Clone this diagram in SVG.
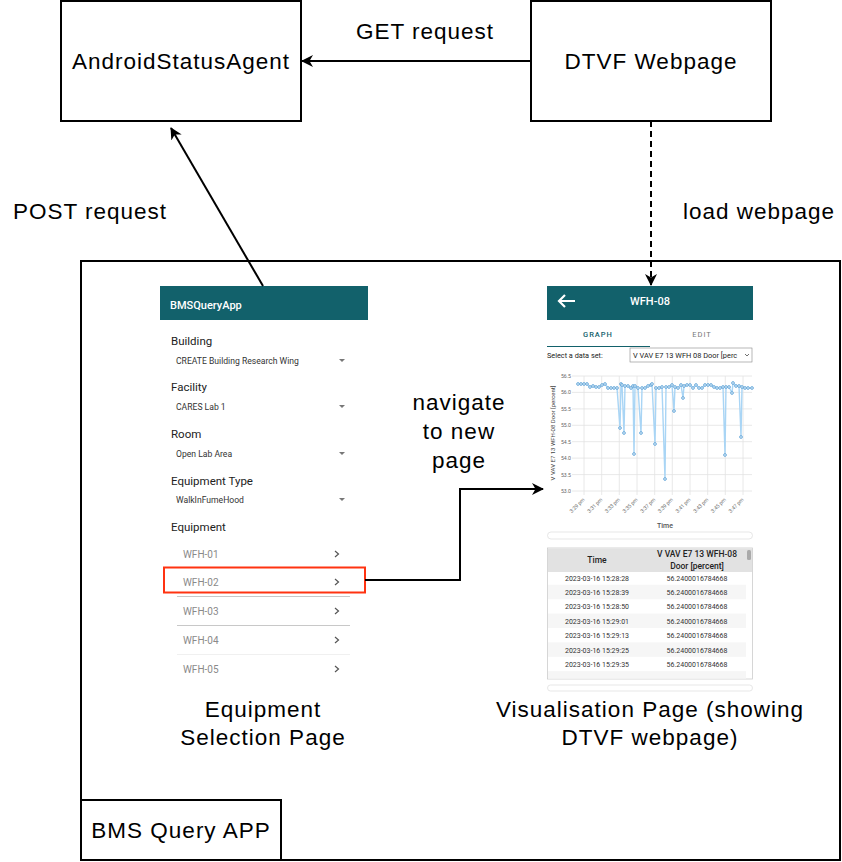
<svg xmlns="http://www.w3.org/2000/svg" width="842" height="862" viewBox="0 0 842 862">
<style>
.box{fill:#fff;stroke:#000;stroke-width:2}
.lbl{font-family:"Liberation Sans",Arial,sans-serif;font-size:22.5px;fill:#000;letter-spacing:1px}
.edge{fill:none;stroke:#000;stroke-width:2}
.app{font-family:Roboto,"Noto Sans",sans-serif}
.fl{font-size:11.5px;fill:#222}
.fv{font-size:8.6px;fill:#333}
.eq{font-size:10px;fill:#8a8a8a}
.chev{fill:none;stroke:#555;stroke-width:1.2}
.tri{fill:#777}
.tick{font-size:5.2px;fill:#666}
.grid{stroke:#e2e2e2;stroke-width:0.8}
.cell{font-size:7px;fill:#333}
</style>
<defs>
<marker id="arr" markerWidth="12" markerHeight="12" viewBox="0 0 12 12" refX="11" refY="6" orient="auto" markerUnits="userSpaceOnUse">
<path d="M0,0 L12,6 L0,12 L3.5,6 Z" fill="#000"/>
</marker>
<marker id="dot" markerWidth="4" markerHeight="4" viewBox="0 0 4 4" refX="2" refY="2" markerUnits="userSpaceOnUse">
<circle cx="2" cy="2" r="1.4" fill="#d5eaf8" stroke="#5b9fd6" stroke-width="0.8"/>
</marker>
</defs>
<rect width="842" height="862" fill="#fff"/>

<g id="node-bms-app">
<rect class="box" x="81" y="261" width="759" height="599"/>
<rect class="box" x="81" y="800" width="200" height="60"/>
<text class="lbl" x="181" y="838" text-anchor="middle">BMS Query APP</text>
</g>

<g id="node-android-status-agent">
<rect class="box" x="61" y="1" width="240" height="120"/>
<text class="lbl" x="181" y="69" text-anchor="middle">AndroidStatusAgent</text>
</g>

<g id="node-dtvf-webpage">
<rect class="box" x="531" y="1" width="240" height="120"/>
<text class="lbl" x="651" y="69" text-anchor="middle">DTVF Webpage</text>
</g>

<g id="node-equipment-selection-page" class="app">
<rect x="160" y="286" width="208" height="34" fill="#12616b"/>
<text x="170" y="309" font-size="11" fill="#fff" font-weight="500">BMSQueryApp</text>
<text class="fl" x="171" y="345">Building</text>
<text class="fv" x="176" y="364">CREATE Building Research Wing</text>
<path class="tri" d="M339,359 L345,359 L342,362 Z"/>
<text class="fl" x="171" y="391">Facility</text>
<text class="fv" x="176" y="410">CARES Lab 1</text>
<path class="tri" d="M339,405 L345,405 L342,408 Z"/>
<text class="fl" x="171" y="438">Room</text>
<text class="fv" x="176" y="457">Open Lab Area</text>
<path class="tri" d="M339,452 L345,452 L342,455 Z"/>
<text class="fl" x="171" y="485">Equipment Type</text>
<text class="fv" x="176" y="503">WalkInFumeHood</text>
<path class="tri" d="M339,498 L345,498 L342,501 Z"/>
<text class="fl" x="171" y="531">Equipment</text>
<text class="eq" x="183" y="558">WFH-01</text>
<path class="chev" d="M335,551 L338.5,554 L335,557"/>
<text class="eq" x="183" y="586">WFH-02</text>
<path class="chev" d="M335,579 L338.5,582 L335,585"/>
<line x1="177" y1="596.5" x2="350" y2="596.5" stroke="#c8c8c8" stroke-width="1"/>
<text class="eq" x="183" y="615">WFH-03</text>
<path class="chev" d="M335,608 L338.5,611 L335,614"/>
<line x1="177" y1="625.5" x2="350" y2="625.5" stroke="#c8c8c8" stroke-width="1"/>
<text class="eq" x="183" y="644">WFH-04</text>
<path class="chev" d="M335,637 L338.5,640 L335,643"/>
<line x1="177" y1="654.5" x2="350" y2="654.5" stroke="#f0f0f0" stroke-width="1"/>
<text class="eq" x="183" y="673">WFH-05</text>
<path class="chev" d="M335,666 L338.5,669 L335,672"/>
<rect x="164" y="567.5" width="201" height="25" fill="none" stroke="#ff3311" stroke-width="2"/>
<text class="lbl" x="263" y="717" text-anchor="middle">Equipment</text>
<text class="lbl" x="263" y="745" text-anchor="middle">Selection Page</text>
</g>

<g id="node-visualisation-page" class="app">
<rect x="547" y="286" width="206" height="34" fill="#12616b"/>
<path d="M559,301 L575,301 M565,295 L559,301 L565,307" fill="none" stroke="#fff" stroke-width="2.2"/>
<text x="650" y="305" font-size="11" fill="#fff" text-anchor="middle" font-weight="500">WFH-08</text>
<text x="598" y="337" font-size="7.5" fill="#12616b" text-anchor="middle" letter-spacing="1" font-weight="500">GRAPH</text>
<text x="702" y="337" font-size="7.5" fill="#777" text-anchor="middle" letter-spacing="1">EDIT</text>
<line x1="547" y1="346.5" x2="650" y2="346.5" stroke="#12616b" stroke-width="1"/>
<text x="547" y="358" font-size="7.3" fill="#222">Select a data set:</text>
<rect x="630" y="348" width="122" height="14" fill="#fff" stroke="#888" stroke-width="0.6"/>
<text x="633" y="358" font-size="7.4" fill="#222">V VAV E7 13 WFH 08 Door [perc</text>
<path d="M745,354 L747,356 L749,354" fill="none" stroke="#333" stroke-width="0.7"/>
<g>
<line class="grid" x1="572" y1="376" x2="752" y2="376"/>
<line class="grid" x1="572" y1="392.4" x2="752" y2="392.4"/>
<line class="grid" x1="572" y1="408.9" x2="752" y2="408.9"/>
<line class="grid" x1="572" y1="425.3" x2="752" y2="425.3"/>
<line class="grid" x1="572" y1="441.7" x2="752" y2="441.7"/>
<line class="grid" x1="572" y1="458.1" x2="752" y2="458.1"/>
<line class="grid" x1="572" y1="474.6" x2="752" y2="474.6"/>
<line class="grid" x1="572" y1="491" x2="752" y2="491"/>
<line class="grid" x1="584" y1="376" x2="584" y2="495"/>
<line class="grid" x1="601.7" y1="376" x2="601.7" y2="495"/>
<line class="grid" x1="619.3" y1="376" x2="619.3" y2="495"/>
<line class="grid" x1="637" y1="376" x2="637" y2="495"/>
<line class="grid" x1="654.7" y1="376" x2="654.7" y2="495"/>
<line class="grid" x1="672.3" y1="376" x2="672.3" y2="495"/>
<line class="grid" x1="690" y1="376" x2="690" y2="495"/>
<line class="grid" x1="707.7" y1="376" x2="707.7" y2="495"/>
<line class="grid" x1="725.3" y1="376" x2="725.3" y2="495"/>
<line class="grid" x1="743" y1="376" x2="743" y2="495"/>
</g>
<g class="tick" text-anchor="end">
<text x="571" y="378">56.5</text>
<text x="571" y="394.4">56.0</text>
<text x="571" y="410.9">55.5</text>
<text x="571" y="427.3">55.0</text>
<text x="571" y="443.7">54.5</text>
<text x="571" y="460.1">54.0</text>
<text x="571" y="476.6">53.5</text>
<text x="571" y="493">53.0</text>
<text transform="translate(585,500) rotate(-45)">3:29 pm</text>
<text transform="translate(602.7,500) rotate(-45)">3:31 pm</text>
<text transform="translate(620.3,500) rotate(-45)">3:33 pm</text>
<text transform="translate(638,500) rotate(-45)">3:35 pm</text>
<text transform="translate(655.7,500) rotate(-45)">3:37 pm</text>
<text transform="translate(673.3,500) rotate(-45)">3:39 pm</text>
<text transform="translate(691,500) rotate(-45)">3:41 pm</text>
<text transform="translate(708.7,500) rotate(-45)">3:43 pm</text>
<text transform="translate(726.3,500) rotate(-45)">3:45 pm</text>
<text transform="translate(744,500) rotate(-45)">3:47 pm</text>
</g>
<text transform="translate(555,433) rotate(-90)" font-size="6" fill="#444" text-anchor="middle">V VAV E7 13 WFH-08 Door [percent]</text>
<text x="665" y="528" font-size="7" fill="#555" text-anchor="middle" font-weight="500">Time</text>
<polyline fill="none" stroke="#a9d5f5" stroke-width="1.4" stroke-linejoin="round" marker-start="url(#dot)" marker-mid="url(#dot)" marker-end="url(#dot)" points="578,384 581,384 584,384 587,384 590,387 593,386 596,387 599,387 602,385 605,384 608,388 611,388 614,388 617,388 620,428 621,384 622,385 624,433 625,386 628,386 631,388 633,386 634,454 635,386 638,388 641,433 642,388 645,388 648,386 651,385 652,384 655,444 656,388 659,388 662,387 665,479 666,387 669,387 672,385 674,411 675,387 678,388 681,385 683,398 684,386 687,385 690,385 693,388 696,385 699,388 702,388 705,385 708,385 711,385 714,387 717,388 720,388 723,387 725,455 726,387 729,387 732,393 733,383 736,386 739,386 741,437 742,387 745,388 748,388 752,388"/>
<rect x="547.5" y="532" width="205" height="7" rx="3.5" fill="#fff" stroke="#ddd" stroke-width="0.7"/>
<rect x="547.5" y="548" width="205" height="131" fill="#fff" stroke="#ccc" stroke-width="0.8"/>
<rect x="548" y="548.5" width="204" height="23.5" fill="#e2e2e2"/>
<rect x="548" y="584.8" width="198" height="14.4" fill="#f6f6f6"/>
<rect x="548" y="613.6" width="198" height="14.4" fill="#f6f6f6"/>
<rect x="548" y="642.4" width="198" height="14.4" fill="#f6f6f6"/>
<rect x="548" y="671.2" width="198" height="7.5" fill="#f6f6f6"/>
<rect x="747" y="550" width="4" height="10" rx="1.5" fill="#aaa"/>
<text x="597" y="563" font-size="8.5" fill="#222" text-anchor="middle" font-weight="500">Time</text>
<text x="697" y="557" font-size="8.5" fill="#222" text-anchor="middle" font-weight="500">V VAV E7 13 WFH-08</text>
<text x="697" y="569" font-size="8.5" fill="#222" text-anchor="middle" font-weight="500">Door [percent]</text>
<g class="cell" text-anchor="middle">
<text x="597" y="580.5">2023-03-16 15:28:28</text>
<text x="697" y="580.5">56.2400016784668</text>
<text x="597" y="594.9">2023-03-16 15:28:39</text>
<text x="697" y="594.9">56.2400016784668</text>
<text x="597" y="609.3">2023-03-16 15:28:50</text>
<text x="697" y="609.3">56.2400016784668</text>
<text x="597" y="623.7">2023-03-16 15:29:01</text>
<text x="697" y="623.7">56.2400016784668</text>
<text x="597" y="638.1">2023-03-16 15:29:13</text>
<text x="697" y="638.1">56.2400016784668</text>
<text x="597" y="652.5">2023-03-16 15:29:25</text>
<text x="697" y="652.5">56.2400016784668</text>
<text x="597" y="666.9">2023-03-16 15:29:35</text>
<text x="697" y="666.9">56.2400016784668</text>
</g>
<rect x="547.5" y="685" width="205" height="6" rx="3" fill="#fff" stroke="#ddd" stroke-width="0.7"/>
<text class="lbl" x="650" y="717" text-anchor="middle">Visualisation Page (showing</text>
<text class="lbl" x="650" y="745" text-anchor="middle">DTVF webpage)</text>
</g>

<g id="connectors">
<line class="edge" x1="531" y1="61" x2="302" y2="61" marker-end="url(#arr)"/>
<line class="edge" x1="263" y1="286" x2="171" y2="128" marker-end="url(#arr)"/>
<line class="edge" x1="651" y1="121" x2="651" y2="285" stroke-dasharray="6,4" marker-end="url(#arr)"/>
<polyline class="edge" points="365,580 460,580 460,489 543,489" marker-end="url(#arr)"/>
</g>

<g id="edge-labels">
<text class="lbl" x="425" y="39" text-anchor="middle">GET request</text>
<text class="lbl" x="90" y="219" text-anchor="middle">POST request</text>
<text class="lbl" x="759" y="219" text-anchor="middle">load webpage</text>
<text class="lbl" x="459" y="410" text-anchor="middle">navigate</text>
<text class="lbl" x="459" y="439" text-anchor="middle">to new</text>
<text class="lbl" x="459" y="468" text-anchor="middle">page</text>
</g>
</svg>
